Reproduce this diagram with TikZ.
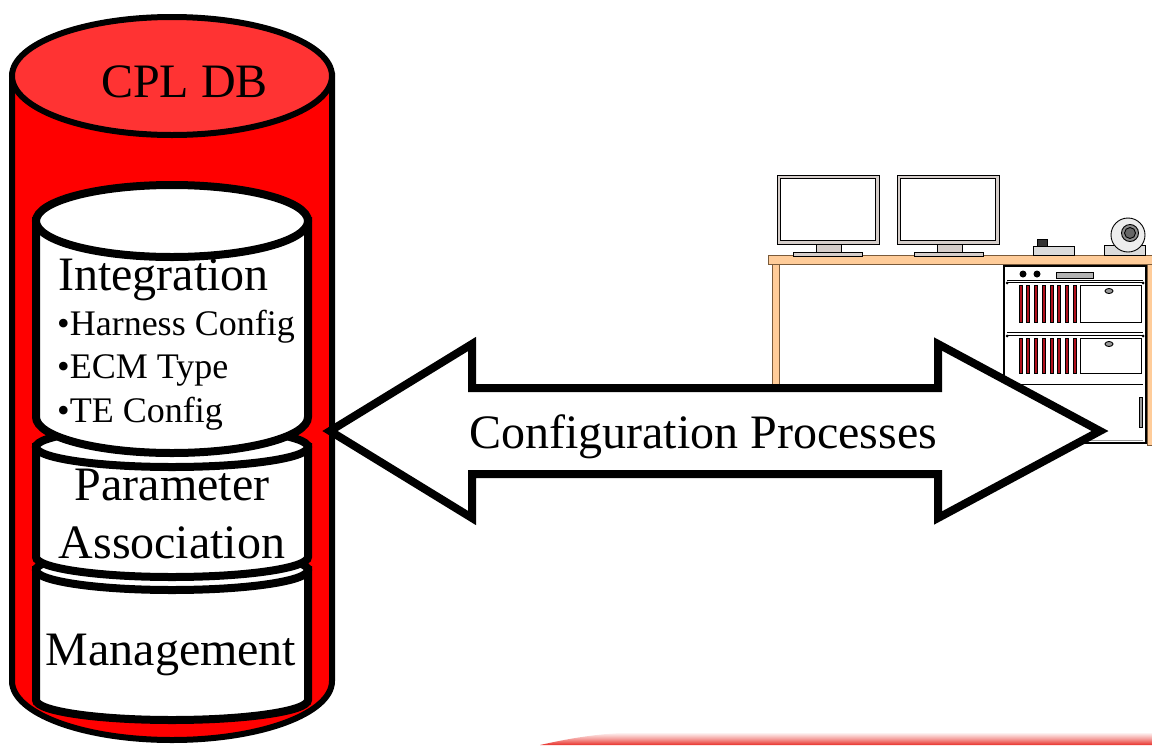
\documentclass[tikz,border=0pt]{standalone}
\usepackage{fontspec}
\setmainfont{Liberation Serif}
\usetikzlibrary{shapes.geometric}

\definecolor{dbred}{HTML}{FF0000}
\definecolor{dbtop}{HTML}{FF3333}
\definecolor{desk}{HTML}{FFCC99}
\definecolor{deskline}{HTML}{7A5A3A}
\definecolor{bezel}{HTML}{D6CECA}
\definecolor{slotred}{HTML}{B0101C}
\definecolor{bandred}{HTML}{E8302A}

% database cylinder: #1 cx, #2 top centre y, #3 bottom centre y, #4 rx, #5 ry, #6 body fill, #7 lid fill
\newcommand\dbcyl[7]{%
  \filldraw[fill=#6] ({#1-#4},{-#2}) -- ({#1-#4},{-#3})
    arc[start angle=180,end angle=360,x radius=#4,y radius=#5]
    -- ({#1+#4},{-#2}) -- cycle;
  \filldraw[fill=#7] (#1,-#2) ellipse[x radius=#4,y radius=#5];
}

\tikzset{
  big/.style={inner sep=0pt,anchor=base west,font=\fontsize{48}{50}\selectfont},
  bigc/.style={inner sep=0pt,anchor=base,font=\fontsize{48}{50}\selectfont},
  bullet/.style={inner sep=0pt,anchor=base west,font=\fontsize{36}{38}\selectfont},
  thin/.style={draw=black,line width=0.9pt},
  deskpart/.style={fill=desk,draw=deskline,line width=0.9pt},
}

\begin{document}
\begin{tikzpicture}[x=1pt,y=1pt]
\useasboundingbox (0,0) rectangle (1152,-745);

% ---- red band at the foot of the page
\shade[top color=white,bottom color=bandred,middle color=bandred!45]
  (540,-745) .. controls (580,-736) and (610,-732) .. (655,-732)
  -- (1152,-732) -- (1152,-745) -- cycle;

% ---- outer CPL database
\begin{scope}[line width=6pt]
  \dbcyl{172}{76}{681}{160}{59}{dbred}{dbtop}
\end{scope}
\node[big] (cpl) at (101,-97) {CPL DB};

% ---- stacked inner stores
\begin{scope}[line width=8pt]
  \dbcyl{172}{570}{700}{136}{20}{white}{white}
  \dbcyl{172}{447}{557}{136}{20}{white}{white}
  \dbcyl{172}{221}{417}{136}{36}{white}{white}
\end{scope}

\node[big] (integ) at (58,-290) {Integration};
\node[bullet] (b1) at (57,-335) {•Harness Config};
\node[bullet] (b2) at (57,-378) {•ECM Type};
\node[bullet] (b3) at (57,-422) {•TE Config};
\node[bigc] (param) at (172,-500) {Parameter};
\node[bigc] (assoc) at (172,-558) {Association};
\node[bigc] (mgmt) at (171,-665) {Management};

% ---- workstation: desk
\filldraw[deskpart] (772,-264) rectangle (779,-400);
\filldraw[deskpart] (1147,-264) rectangle (1156,-445);
\filldraw[deskpart] (768,-255) rectangle (1158,-264);

% monitors
\foreach \mx/\nx/\bx in {777/816/793, 897/937/914}{
  \filldraw[fill=bezel,thin] (\mx,-175) rectangle (\mx+102,-244);
  \filldraw[fill=white,thin] (\mx+3.5,-178.5) rectangle (\mx+98.5,-240.5);
  \filldraw[fill=bezel,thin] (\nx,-244) rectangle (\nx+25,-252);
  \filldraw[fill=bezel,thin] (\bx,-252) rectangle (\bx+69,-256);
}

% small desk unit
\filldraw[fill=black!14,thin] (1033,-246) rectangle (1074,-255);
\filldraw[fill=black!80,thin] (1037,-239) rectangle (1047,-246);

% camera
\filldraw[fill=black!14,thin] (1104,-245) rectangle (1145,-255);
\filldraw[fill=black!7,thin] (1128,-235) circle[radius=17];
\filldraw[fill=black!45,thin] (1130,-233) circle[radius=8.5];
\filldraw[fill=black!60,thin] (1130,-233) circle[radius=5.5];

% equipment rack
\filldraw[fill=white,draw=black,line width=2.5pt] (1004,-266) rectangle (1146,-443);
\draw[thin] (1007,-280) -- (1143,-280);
\draw[thin] (1007,-282) -- (1143,-282) (1007,-332) -- (1143,-332);
\draw[thin] (1007,-335) -- (1143,-335) (1007,-384) -- (1143,-384);
\draw[black!40,line width=1pt] (1007,-440) -- (1143,-440);
\fill (1023,-274) circle[radius=3.5] (1037,-274) circle[radius=3.5];
\filldraw[fill=black!30,thin] (1056,-272) rectangle (1093,-278);
\foreach \ty/\by in {285/322, 338/373}{
  \foreach \i in {0,...,7}{
    \filldraw[fill=slotred,draw=black,line width=0.8pt]
      ({1019+7.75*\i},-\ty) rectangle ({1022+7.75*\i},-\by);
  }
  \draw[thin] (1080,-\ty) rectangle (1141,-\by);
  \filldraw[fill=black!40,thin] (1109,{-\ty-6}) ellipse[x radius=4,y radius=2.5];
  \fill (1007,{-\ty+2}) circle[radius=1.5] (1143,{-\ty+2}) circle[radius=1.5];
}
\filldraw[fill=black!40,thin] (1139,-397) rectangle (1142,-427);

% ---- double arrow
\filldraw[fill=white,draw=black,line width=8pt]
  (330,-431) -- (472,-344) -- (472,-388) -- (938,-388) -- (938,-344)
  -- (1100,-431) -- (938,-518) -- (938,-474) -- (472,-474) -- (472,-518) -- cycle;
\node[big] (proc) at (469,-448) {Configuration Processes};

\end{tikzpicture}
\end{document}
